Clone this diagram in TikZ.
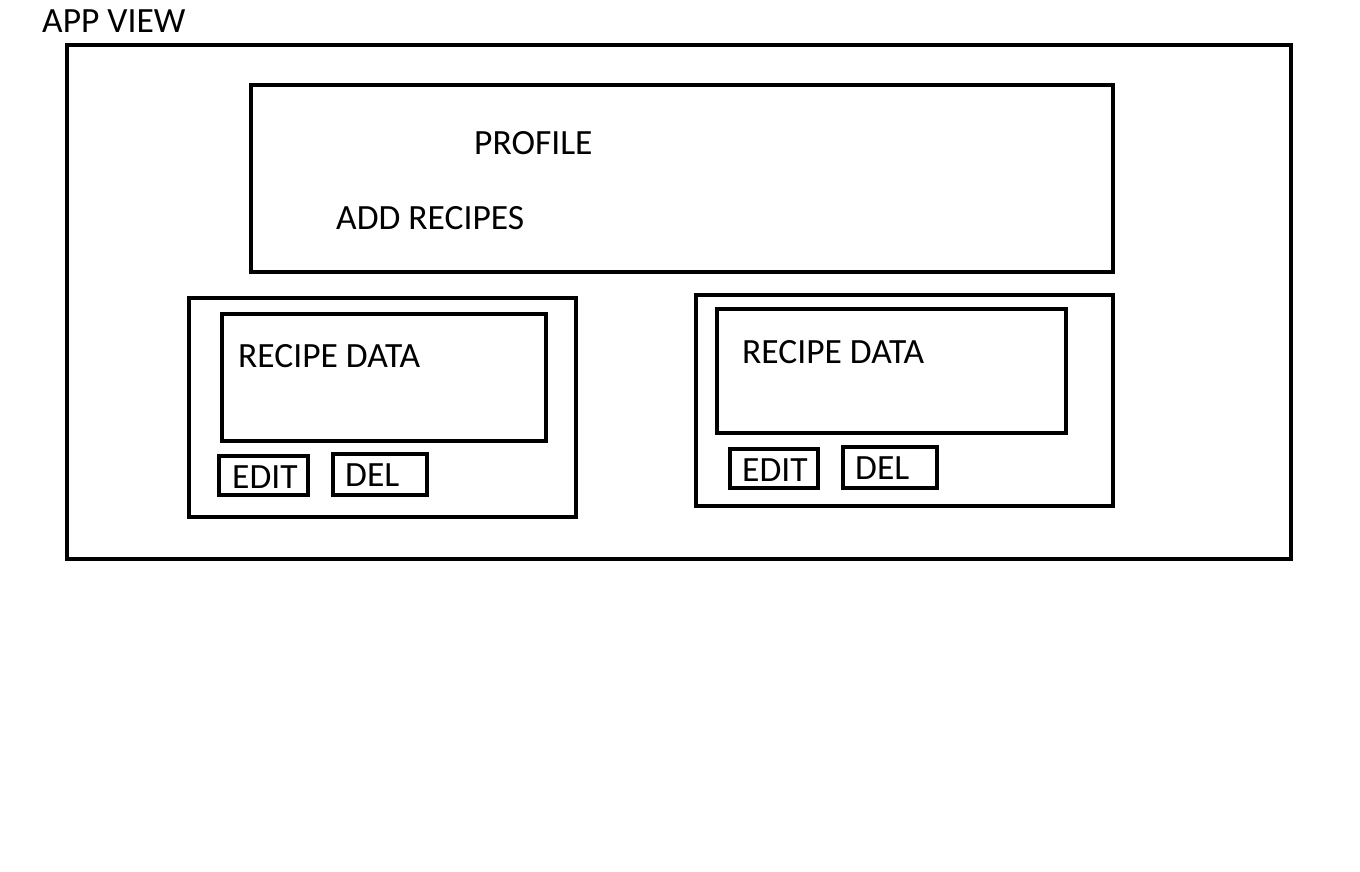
\documentclass[tikz,border=0pt]{standalone}
\usepackage{fontspec}
\setmainfont{Carlito}
\tikzset{
  frame/.style={draw=black,line width=4.5pt},
  label/.style={anchor=base west,inner sep=0pt,font=\fontsize{35.5}{40}\selectfont}
}
\begin{document}
\begin{tikzpicture}[x=1pt,y=-1pt]
\useasboundingbox[fill=white] (0,0) rectangle (1360,872);
\node[label] (appview) at (42,33) {APP VIEW};
\draw[frame] (67,45) rectangle (1291,559);
% profile bar
\draw[frame] (251,85) rectangle (1113,272);
\node[label] (profile) at (474,154) {PROFILE};
\node[label] (addrecipes) at (336,229) {ADD RECIPES};
% left recipe card
\draw[frame] (189,298) rectangle (576,517);
\draw[frame] (222,314) rectangle (546,441);
\node[label] (dataA) at (238,367) {RECIPE DATA};
\draw[frame] (219,456) rectangle (308,495);
\node[label] (editA) at (232,488) {EDIT};
\draw[frame] (333,454) rectangle (427,495);
\node[label] (delA) at (345,486) {DEL};
% right recipe card
\draw[frame] (696,295) rectangle (1113,506);
\draw[frame] (717,309) rectangle (1066,433);
\node[label] (dataB) at (742,363) {RECIPE DATA};
\draw[frame] (730,449) rectangle (818,488);
\node[label] (editB) at (742,481) {EDIT};
\draw[frame] (843,447) rectangle (937,488);
\node[label] (delB) at (855,479) {DEL};
\end{tikzpicture}
\end{document}
